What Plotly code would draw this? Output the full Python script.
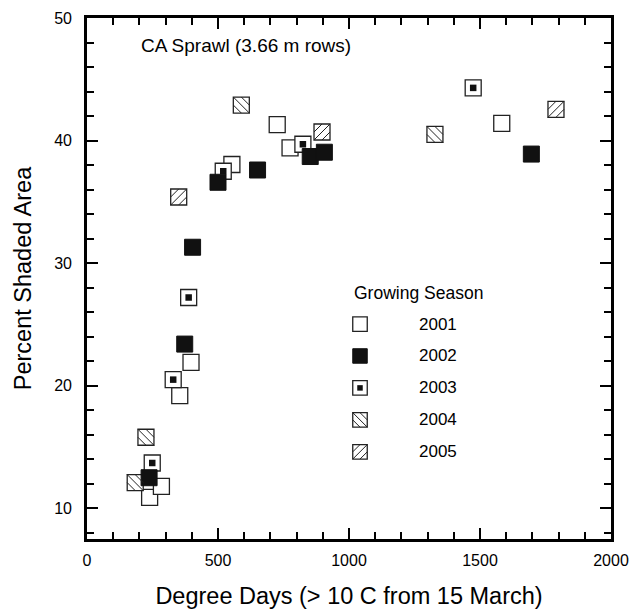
import plotly.graph_objects as go

# ---------------- data ----------------
dd_2001 = [239, 284, 354, 397, 553, 726, 775, 1583]
ps_2001 = [10.9, 11.8, 19.2, 21.9, 38.05, 41.3, 39.4, 41.4]

dd_2002 = [237, 373, 403, 500, 651, 852, 906, 1696]
ps_2002 = [12.5, 23.4, 31.3, 36.6, 37.6, 38.7, 39.05, 38.9]

dd_2003 = [249, 329, 388, 520, 824, 1474]
ps_2003 = [13.7, 20.5, 27.2, 37.5, 39.7, 44.3]

dd_2004 = [184, 225, 589, 1328]
ps_2004 = [12.1, 15.8, 42.9, 40.5]

dd_2005 = [350, 897, 1790]
ps_2005 = [35.4, 40.7, 42.55]

seasons = ["2001", "2002", "2003", "2004", "2005"]
x_ticks = [0, 500, 1000, 1500, 2000]
y_ticks = [10, 20, 30, 40, 50]

# ---------------- styles ----------------
FONT = "Liberation Sans, Arial, Helvetica, sans-serif"
EDGE = "#222222"
FILL = "#111111"
MS = 16          # data marker size
LS = 14.5        # legend marker size

fig = go.Figure()

def open_sq(x, y, size, xa="x", ya="y"):
    return go.Scatter(x=x, y=y, mode="markers", xaxis=xa, yaxis=ya, showlegend=False,
                      hoverinfo="skip",
                      marker=dict(symbol="square", size=size, color="white",
                                  line=dict(color=EDGE, width=1.3)))

def filled_sq(x, y, size, xa="x", ya="y", line=True):
    return go.Scatter(x=x, y=y, mode="markers", xaxis=xa, yaxis=ya, showlegend=False,
                      hoverinfo="skip",
                      marker=dict(symbol="square", size=size, color=FILL,
                                  line=dict(color=FILL, width=1 if line else 0)))

shapes = []

def hatch(xs, ys, kind, half, xref="x", yref="y"):
    for xv, yv in zip(xs, ys):
        if kind == "back":   # "\"
            segs = [(-half, half, half, -half), (0, half, half, 0), (-half, 0, 0, -half)]
        else:                # "/"
            segs = [(-half, -half, half, half), (-half, 0, 0, half), (0, -half, half, 0)]
        for (a, b, c, d) in segs:
            shapes.append(dict(type="line", xref=xref, yref=yref,
                               xsizemode="pixel", ysizemode="pixel",
                               xanchor=xv, yanchor=yv,
                               x0=a, y0=b, x1=c, y1=d,
                               line=dict(color=EDGE, width=1)))

# data marks
fig.add_trace(open_sq(dd_2001, ps_2001, MS))
fig.add_trace(open_sq(dd_2003, ps_2003, MS))
fig.add_trace(filled_sq(dd_2003, ps_2003, 6.5, line=False))
fig.add_trace(open_sq(dd_2004, ps_2004, MS))
fig.add_trace(open_sq(dd_2005, ps_2005, MS))
fig.add_trace(filled_sq(dd_2002, ps_2002, MS))
hatch(dd_2004, ps_2004, "back", MS / 2)
hatch(dd_2005, ps_2005, "fwd", MS / 2)

# custom legend on an overlaid unit axis
leg_x = [0.521] * 5
leg_y = [0.4126, 0.3513, 0.2900, 0.2286, 0.1673]
label_x = 0.629
fig.add_trace(open_sq([leg_x[0]], [leg_y[0]], LS, "x2", "y2"))
fig.add_trace(filled_sq([leg_x[1]], [leg_y[1]], LS, "x2", "y2"))
fig.add_trace(open_sq([leg_x[2]], [leg_y[2]], LS, "x2", "y2"))
fig.add_trace(filled_sq([leg_x[2]], [leg_y[2]], 5.5, "x2", "y2", line=False))
fig.add_trace(open_sq([leg_x[3]], [leg_y[3]], LS, "x2", "y2"))
fig.add_trace(open_sq([leg_x[4]], [leg_y[4]], LS, "x2", "y2"))
hatch([leg_x[3]], [leg_y[3]], "back", LS / 2, "x2", "y2")
hatch([leg_x[4]], [leg_y[4]], "fwd", LS / 2, "x2", "y2")

annotations = [
    dict(text="CA Sprawl (3.66 m rows)", xref="paper", yref="paper",
         x=0.100, y=0.947, xanchor="left", yanchor="middle", showarrow=False,
         font=dict(family=FONT, size=19, color="black")),
    dict(text="Growing Season", xref="paper", yref="paper",
         x=0.506, y=0.472, xanchor="left", yanchor="middle", showarrow=False,
         font=dict(family=FONT, size=17.5, color="black")),
]
for s, yy in zip(seasons, leg_y):
    annotations.append(dict(text=s, xref="x2", yref="y2", x=label_x, y=yy,
                            xanchor="left", yanchor="middle", showarrow=False,
                            font=dict(family=FONT, size=17, color="black")))

axis_common = dict(showgrid=False, zeroline=False, showline=True, linecolor="black",
                   linewidth=2.7, mirror="ticks", ticks="inside", tickcolor="black",
                   tickwidth=2, ticklen=11,
                   tickfont=dict(family=FONT, size=16, color="black"))

fig.update_layout(
    width=630, height=609,
    margin=dict(l=87, r=19, t=18, b=70, autoexpand=False),
    paper_bgcolor="white", plot_bgcolor="white",
    showlegend=False,
    xaxis=dict(range=[0, 2000], tickvals=x_ticks, ticklabelstandoff=5,
               minor=dict(dtick=100, tick0=0, ticks="inside", ticklen=7,
                          tickwidth=2, tickcolor="black"),
               title=dict(text="Degree Days (> 10 C from 15 March)", standoff=20,
                          font=dict(family=FONT, size=23.5, color="black")),
               **axis_common),
    yaxis=dict(range=[7.5, 50], tickvals=y_ticks, ticklabelstandoff=9,
               minor=dict(dtick=2, tick0=0, ticks="inside", ticklen=7,
                          tickwidth=2, tickcolor="black"),
               title=dict(text="Percent Shaded Area", standoff=16,
                          font=dict(family=FONT, size=23.5, color="black")),
               **axis_common),
    xaxis2=dict(range=[0, 1], overlaying="x", anchor="y2", visible=False),
    yaxis2=dict(range=[0, 1], overlaying="y", anchor="x2", visible=False),
    shapes=shapes,
    annotations=annotations,
)

fig.write_html("out.html", config={"displayModeBar": False},
               post_script="document.body.style.margin='0';document.body.style.overflow='hidden';")
